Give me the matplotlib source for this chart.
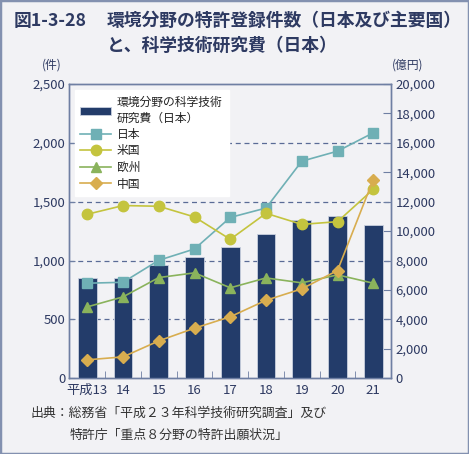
import matplotlib.pyplot as plt
import numpy as np
from matplotlib.patches import Rectangle

plt.rcParams['font.family'] = ['Noto Sans CJK JP', 'DejaVu Sans']

years = ['平成13', '14', '15', '16', '17', '18', '19', '20', '21']
# 環境分野の科学技術研究費（日本）, 億円
rd_cost = [6780, 6780, 7690, 8250, 8920, 9770, 10770, 11050, 10390]
# 特許登録件数, 件
japan = [807, 815, 1002, 1098, 1366, 1446, 1844, 1929, 2085]
usa = [1393, 1467, 1461, 1370, 1180, 1401, 1307, 1330, 1605]
europe = [606, 691, 855, 895, 768, 852, 810, 878, 807]
china = [156, 181, 317, 425, 522, 662, 759, 915, 1688]

bg = '#f2f2f5'
txt = '#2e3a62'
spine_c = '#6f7fa3'

fig = plt.figure(figsize=(4.69, 4.54), dpi=100, facecolor=bg)
fig.patches.append(Rectangle((0, 0), 1, 1, transform=fig.transFigure, fill=False,
                             edgecolor='#8391b0', linewidth=2.5))

ax = fig.add_axes([0.148, 0.167, 0.686, 0.648])
ax.set_facecolor(bg)
ax2 = ax.twinx()   # lines (件) go here, bars (億円) on ax
x = np.arange(len(years))

# bars on right scale (億円)
ax.bar(x, rd_cost, width=0.52, color='#233c6a', edgecolor='#c9d0de',
       linewidth=0.6, zorder=3, label='環境分野の科学技術\n研究費（日本）')
for v in [4000, 8000, 12000, 16000]:
    ax.axhline(v, color='#5a6b96', linestyle=(0, (4, 3)), linewidth=0.9, zorder=1)
ax.set_ylim(0, 20000)
ax.set_xlim(-0.5, 8.5)
ax.yaxis.tick_right()
ax.set_yticks(np.arange(0, 20001, 2000))
ax.set_yticklabels([f'{v:,}' for v in range(0, 20001, 2000)])
ax.tick_params(axis='y', direction='in', length=6, color=spine_c, labelcolor=txt,
               labelsize=9.5, pad=3, right=True, left=False,
               labelright=True, labelleft=False)
ax.set_xticks(x)
ax.set_xticklabels(years)
ax.set_xticks(np.arange(-0.5, 8.6, 1), minor=True)
ax.tick_params(axis='x', which='major', length=0, labelcolor=txt, labelsize=9.5, pad=4)
ax.tick_params(axis='x', which='minor', direction='in', length=5, color=spine_c)

# lines on left scale (件)
ax2.yaxis.tick_left()
ax2.plot(x, japan, color='#6fb0b5', marker='s', markersize=7, linewidth=1.2,
         label='日本', zorder=4)
ax2.plot(x, usa, color='#c4c43e', marker='o', markersize=7.5, linewidth=1.2,
         label='米国', zorder=4)
ax2.plot(x, europe, color='#8ab35c', marker='^', markersize=7.5, linewidth=1.2,
         label='欧州', zorder=4)
ax2.plot(x, china, color='#d8ad4f', marker='D', markersize=6.5, linewidth=1.2,
         label='中国', zorder=4)
ax2.set_ylim(0, 2500)
ax2.set_yticks(np.arange(0, 2501, 500))
ax2.set_yticklabels([f'{v:,}' for v in range(0, 2501, 500)])
ax2.tick_params(axis='y', direction='in', length=4, color=spine_c, labelcolor=txt,
                labelsize=9.5, pad=3, left=True, right=False,
                labelleft=True, labelright=False)

for a in (ax, ax2):
    for s in a.spines.values():
        s.set_color(spine_c)
        s.set_linewidth(1.0)

h1, l1 = ax.get_legend_handles_labels()
h2, l2 = ax2.get_legend_handles_labels()
leg = ax2.legend(h1 + h2, l1 + l2, loc='upper left', bbox_to_anchor=(0.005, 0.99),
                 frameon=True, fancybox=False, framealpha=1, edgecolor='white',
                 facecolor='white', fontsize=8.5, handlelength=2.6, handletextpad=0.5,
                 labelspacing=0.3, borderpad=0.5, borderaxespad=0.3)
for t in leg.get_texts():
    t.set_color('#222222')

fig.text(0.111, 0.85, '(件)', color=txt, fontsize=8.5, ha='center')
fig.text(0.87, 0.85, '(億円)', color=txt, fontsize=8.5, ha='center')

fig.text(0.03, 0.954, '図1-3-28', color=txt, fontsize=12.8, fontweight='bold', va='center')
fig.text(0.228, 0.954, '環境分野の特許登録件数（日本及び主要国）', color=txt, fontsize=12.8,
         fontweight='bold', va='center')
fig.text(0.228, 0.899, 'と、科学技術研究費（日本）', color=txt, fontsize=12.8,
         fontweight='bold', va='center')

fig.text(0.064, 0.09, '出典：総務省「平成２３年科学技術研究調査」及び', color='#333333',
         fontsize=9.3, va='center')
fig.text(0.149, 0.04, '特許庁「重点８分野の特許出願状況」', color='#333333',
         fontsize=9.3, va='center')

fig.savefig('out.png', dpi=100, facecolor=bg)
